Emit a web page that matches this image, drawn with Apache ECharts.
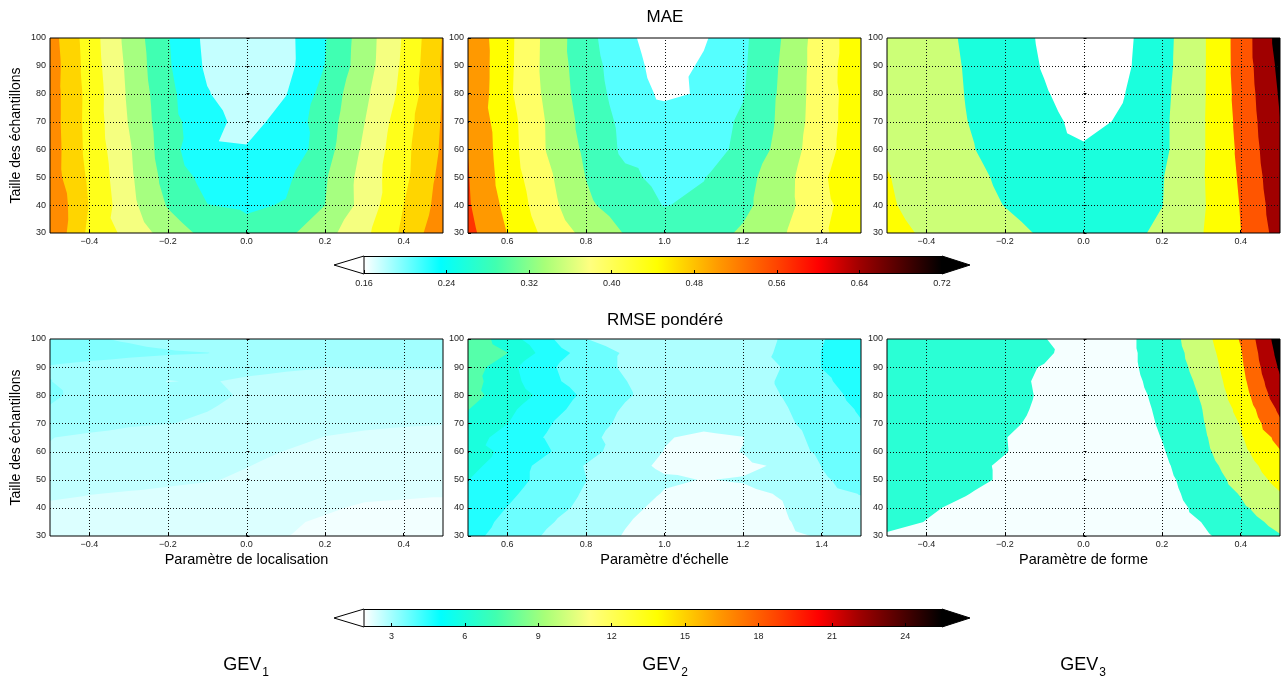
<!DOCTYPE html>
<html><head><meta charset="utf-8">
<script src="https://cdn.jsdelivr.net/npm/echarts@6/dist/echarts.min.js"></script>
<style>html,body{margin:0;padding:0;background:#fff}#c{width:1281px;height:684px}</style>
</head><body><div id="c"></div>
<script>
// ---------------- DATA ----------------
const yMAE = [30, 40, 50, 60, 70, 80, 90, 100];
const yRMSE = [30, 35, 40, 45, 50, 55, 60, 65, 70, 75, 80, 85, 90, 95, 100];
const xLoc = [-0.5, -0.4, -0.3, -0.2, -0.1, 0, 0.1, 0.2, 0.3, 0.4, 0.5];
const xEch = [0.5, 0.6, 0.7, 0.8, 0.9, 1.0, 1.1, 1.2, 1.3, 1.4, 1.5];
const xForme = [-0.5, -0.4, -0.3, -0.2, -0.1, 0, 0.1, 0.2, 0.3, 0.4, 0.5];

// MAE (rows = sample sizes 30..100 step 10)
const maeGEV1 = [
  [0.555,0.449,0.395,0.338,0.295,0.275,0.298,0.343,0.398,0.470,0.549],
  [0.554,0.458,0.377,0.306,0.261,0.253,0.263,0.310,0.378,0.460,0.532],
  [0.536,0.452,0.371,0.291,0.244,0.230,0.250,0.305,0.379,0.448,0.526],
  [0.537,0.445,0.367,0.280,0.218,0.214,0.220,0.290,0.369,0.446,0.518],
  [0.535,0.443,0.358,0.277,0.230,0.191,0.229,0.285,0.359,0.439,0.515],
  [0.535,0.444,0.353,0.274,0.213,0.180,0.208,0.278,0.349,0.425,0.513],
  [0.537,0.439,0.349,0.266,0.202,0.175,0.194,0.261,0.337,0.419,0.517],
  [0.532,0.436,0.343,0.263,0.198,0.175,0.195,0.257,0.335,0.415,0.513]
];
const maeGEV2 = [
  [0.542,0.469,0.400,0.345,0.302,0.278,0.283,0.312,0.354,0.408,0.443],
  [0.531,0.456,0.381,0.315,0.278,0.248,0.261,0.293,0.339,0.400,0.448],
  [0.528,0.444,0.372,0.304,0.261,0.236,0.248,0.286,0.338,0.406,0.465],
  [0.524,0.439,0.358,0.295,0.239,0.228,0.231,0.261,0.325,0.395,0.448],
  [0.514,0.437,0.357,0.286,0.236,0.225,0.228,0.257,0.317,0.391,0.448],
  [0.520,0.427,0.349,0.278,0.226,0.184,0.201,0.247,0.315,0.389,0.448],
  [0.520,0.429,0.345,0.274,0.219,0.171,0.202,0.243,0.312,0.388,0.454],
  [0.516,0.430,0.346,0.268,0.209,0.162,0.189,0.240,0.307,0.388,0.448]
];
const maeGEV3 = [
  [0.425,0.390,0.355,0.325,0.290,0.260,0.260,0.325,0.394,0.499,0.638],
  [0.410,0.372,0.335,0.298,0.265,0.250,0.265,0.298,0.386,0.504,0.654],
  [0.404,0.365,0.325,0.285,0.250,0.235,0.255,0.295,0.389,0.512,0.669],
  [0.390,0.355,0.310,0.270,0.235,0.210,0.235,0.280,0.386,0.520,0.685],
  [0.385,0.350,0.302,0.265,0.225,0.175,0.210,0.280,0.386,0.527,0.698],
  [0.385,0.350,0.298,0.260,0.208,0.155,0.195,0.275,0.383,0.534,0.710],
  [0.380,0.345,0.295,0.255,0.193,0.135,0.180,0.268,0.382,0.540,0.723],
  [0.380,0.340,0.290,0.250,0.185,0.130,0.175,0.265,0.382,0.541,0.740]
];
// RMSE pondéré (rows = sample sizes 30..100 step 5)
const rmseGEV1 = [
  [2.25,2.225,2.2,2.15,2.1,2.05,2.01,1.9,1.8,1.75,1.75],
  [2.35,2.3,2.175,2.25,2.2,2.1,2.05,1.95,1.85,1.8,1.8],
  [2.45,2.4,2.35,2.3,2.25,2.2,2.15,2.05,1.95,1.925,1.925],
  [2.55,2.51,2.475,2.425,2.375,2.3,2.225,2.15,2.075,2.05,2.025],
  [2.7,2.65,2.6,2.575,2.525,2.45,2.375,2.3,2.225,2.2,2.175],
  [2.9,2.76,2.7,2.65,2.6,2.51,2.425,2.35,2.3,2.275,2.25],
  [2.975,2.9,2.825,2.76,2.7,2.6,2.49,2.425,2.375,2.35,2.325],
  [3.01,2.925,2.8,2.85,2.8,2.725,2.6,2.49,2.45,2.425,2.4],
  [3.25,3.15,3.075,3.01,2.95,2.85,2.76,2.6,2.55,2.525,2.51],
  [3.45,3.25,3.15,3.075,3.01,2.925,2.825,2.7,2.625,2.6,2.575],
  [3.6,3.3,3.2,3.125,3.05,2.975,2.875,2.775,2.7,2.675,2.65],
  [3.51,3.3,3.2,2.99,3.025,2.95,2.9,2.8,2.74,2.725,2.7],
  [3.45,3.35,3.25,3.2,3.15,3.1,3.05,3.01,3.03,3.05,3.05],
  [3.8,3.7,3.625,3.55,3.51,3.35,3.15,3.075,3.025,3.05,3.05],
  [3.65,3.55,3.45,3.35,3.275,3.2,3.15,3.1,3.075,3.05,3.05]
];
const rmseGEV2 = [
  [4.3,3.6,2.9,2.4,1.95,1.6,1.5,1.55,1.75,2.1,2.6],
  [4.4,3.8,3.1,2.6,2.05,1.7,1.6,1.65,1.85,2.5,2.75],
  [4.6,3.98,3.4,2.75,2.2,1.8,1.7,1.75,1.95,2.7,2.85],
  [4.8,4.2,3.5,2.9,2.4,1.95,1.8,1.85,2.05,2.8,3.02],
  [5.02,4.4,3.7,3.02,2.5,2.1,1.98,2.05,2.3,2.9,3.3],
  [5.3,4.5,3.7,2.95,2.3,1.85,1.8,1.85,2.1,3.02,3.5],
  [5.4,4.8,4.1,3.3,2.6,1.98,1.8,2.02,2.5,3.2,3.65],
  [5.6,4.5,3.95,3.2,2.7,2.05,1.85,1.98,2.6,3.3,3.8],
  [5.9,5.02,4.1,3.4,2.8,2.4,2.2,2.35,2.8,3.4,3.95],
  [6.02,5.2,4.4,3.6,2.9,2.5,2.4,2.5,2.9,3.5,4.1],
  [6.3,5.6,4.7,3.8,3.1,2.6,2.5,2.6,3.02,3.6,4.3],
  [6.4,5.4,4.3,3.5,3.02,2.6,2.5,2.6,3.1,3.8,4.5],
  [6.6,5.3,4.2,3.4,2.9,2.5,2.4,2.5,3.02,4.02,4.6],
  [6.95,6.02,4.6,3.6,2.9,2.15,2.2,2.35,3.2,4.02,4.6],
  [6.8,5.43,4.22,3.02,2.4,2.15,2.1,2.3,3.1,3.95,4.5]
];
const rmseGEV3 = [
  [3.6,3.0,2.48,2.0,1.6,1.2,1.2,2.0,3.4,5.6,7.8],
  [5.0,3.92,3.2,2.4,1.68,1.2,1.32,2.2,4.02,6.48,9.0],
  [5.2,4.4,3.4,2.6,1.8,1.2,1.4,2.4,4.8,7.4,10.2],
  [5.8,5.2,4.12,3.0,2.0,1.2,1.52,2.72,5.4,8.2,11.8],
  [6.0,5.6,4.88,3.6,2.2,1.2,1.6,3.0,5.8,9.2,13.2],
  [6.0,5.6,4.8,3.6,2.4,1.2,1.6,3.32,6.4,10.0,14.4],
  [6.2,5.8,5.2,4.12,2.6,1.2,1.8,3.72,6.96,10.92,15.8],
  [6.2,5.8,5.2,4.08,2.8,1.4,2.0,4.08,7.28,11.6,17.2],
  [6.4,6.0,5.4,4.6,3.2,1.6,2.2,4.36,7.6,12.2,19.4],
  [6.4,6.0,5.4,4.8,3.52,1.8,2.4,4.56,7.88,13.04,20.8],
  [6.4,6.0,5.4,4.88,3.68,2.0,2.6,4.8,8.28,13.96,22.4],
  [6.4,6.0,5.4,4.8,3.6,2.0,2.8,5.16,8.72,14.68,23.52],
  [6.4,6.0,5.6,5.0,3.8,2.2,3.0,5.48,9.24,15.24,24.56],
  [6.4,6.2,5.8,5.4,4.6,2.2,3.0,5.64,9.76,15.68,25.44],
  [6.4,6.2,5.8,5.2,4.12,2.4,3.0,5.88,10.32,16.32,26.2]
];

// contour levels per panel
const levMae1 = [0.16,0.21,0.26,0.31,0.36,0.41,0.46,0.51,0.56];
const levMae2 = [0.14,0.195,0.25,0.305,0.36,0.415,0.47,0.525,0.58];
const levMae3 = [0.1,0.2,0.3,0.4,0.5,0.6,0.7,0.8];
const levRmse1 = [1.5,2.0,2.5,3.0,3.5,4.0];
const levRmse2 = [1,2,3,4,5,6,7];
const levRmse3 = [0,4,8,12,16,20,24,28];

// tick labels
const xTicksLoc = [-0.4, -0.2, 0.0, 0.2, 0.4];
const xTicksEch = [0.6, 0.8, 1.0, 1.2, 1.4];
const xTicksForme = [-0.4, -0.2, 0.0, 0.2, 0.4];
const yTicks = [30, 40, 50, 60, 70, 80, 90, 100];
const cbMaeRange = [0.16, 0.72];
const cbMaeTicks = [0.16, 0.24, 0.32, 0.40, 0.48, 0.56, 0.64, 0.72];
const cbRmseRange = [1.88, 25.5];
const cbRmseTicks = [3, 6, 9, 12, 15, 18, 21, 24];

// texts
const titles = ['MAE', 'RMSE pondéré'];
const xNames = ['Paramètre de localisation', "Paramètre d'échelle", 'Paramètre de forme'];
const yName = 'Taille des échantillons';
const gevNames = ['1', '2', '3'];

// ---------------- STYLE ----------------
const FONT = '"Liberation Sans", Arial, Helvetica, sans-serif';
const colMae1 = ['#c4ffff','#1affff','#40ffb2','#a6ff80','#f5ff80','#ffff1a','#ffd500','#ff8c00'];
const colMae2 = ['#ffffff','#55ffff','#40ffbb','#aaff77','#ffff66','#ffff00','#ff9900','#ff3300'];
const colMae3 = ['#ffffff','#1affdd','#ccff77','#ffff00','#ff5500','#a00000','#000000'];
const colRmse1 = ['#f2ffff','#dcffff','#c2ffff','#a2ffff','#80ffff'];
const colRmse2 = ['#f0ffff','#aeffff','#6cffff','#22ffff','#1affdd','#55ffaa'];
const colRmse3 = ['#f5ffff','#2affd5','#ccff77','#ffff00','#ff6600','#b00000','#000000'];
const cmapStops = [[0,'#ffffff'],[0.133,'#00ffff'],[0.228,'#40ffb0'],[0.313,'#a8ff78'],[0.391,'#ffff80'],
  [0.507,'#ffff00'],[0.614,'#ff9900'],[0.714,'#ff4400'],[0.786,'#ff0000'],[0.857,'#a00000'],[1,'#000000']];

const gridLeft = [50, 468, 887];
const gridW = 393;
const rowTop = [38, 339];
const rowH = [195, 197];

const panels = [
  {xs: xLoc, ys: yMAE, z: maeGEV1, lev: levMae1, col: colMae1, xt: xTicksLoc, r: 0, c: 0},
  {xs: xEch, ys: yMAE, z: maeGEV2, lev: levMae2, col: colMae2, xt: xTicksEch, r: 0, c: 1},
  {xs: xForme, ys: yMAE, z: maeGEV3, lev: levMae3, col: colMae3, xt: xTicksForme, r: 0, c: 2},
  {xs: xLoc, ys: yRMSE, z: rmseGEV1, lev: levRmse1, col: colRmse1, xt: xTicksLoc, r: 1, c: 0},
  {xs: xEch, ys: yRMSE, z: rmseGEV2, lev: levRmse2, col: colRmse2, xt: xTicksEch, r: 1, c: 1},
  {xs: xForme, ys: yRMSE, z: rmseGEV3, lev: levRmse3, col: colRmse3, xt: xTicksForme, r: 1, c: 2}
];

function clipTri(tri, L) {
  const out = [];
  for (let n = 0; n < tri.length; n++) {
    const p = tri[n], q = tri[(n + 1) % tri.length];
    const pin = p[2] >= L, qin = q[2] >= L;
    if (pin) out.push(p);
    if (pin !== qin) {
      const t = (L - p[2]) / (q[2] - p[2]);
      out.push([p[0] + t * (q[0] - p[0]), p[1] + t * (q[1] - p[1]), L]);
    }
  }
  return out;
}

function contourSeries(idx, P) {
  const xs = P.xs, ys = P.ys, Z = P.z, lev = P.lev, col = P.col;
  return {
    type: 'custom', xAxisIndex: idx, yAxisIndex: idx, z: 2, silent: true, animation: false,
    data: col.map((c, k) => [xs[0], ys[0], lev[k]]),
    encode: {x: 0, y: 1},
    renderItem: function (params, api) {
      const k = params.dataIndex, L = lev[k];
      let d = '';
      for (let j = 0; j < ys.length - 1; j++) {
        for (let i = 0; i < xs.length - 1; i++) {
          const a = [xs[i], ys[j], Z[j][i]], b = [xs[i + 1], ys[j], Z[j][i + 1]];
          const c = [xs[i + 1], ys[j + 1], Z[j + 1][i + 1]], e = [xs[i], ys[j + 1], Z[j + 1][i]];
          const tris = [[a, b, c], [a, c, e]];
          for (const tri of tris) {
            const poly = k === 0 ? tri : clipTri(tri, L);
            if (poly.length < 3) continue;
            poly.forEach((p, n) => {
              const q = api.coord([p[0], p[1]]);
              d += (n ? 'L' : 'M') + q[0].toFixed(2) + ' ' + q[1].toFixed(2);
            });
            d += 'Z';
          }
        }
      }
      return {type: 'path', z2: k, shape: {pathData: d}, style: {fill: col[k], stroke: null}};
    }
  };
}

function gridLineSeries(idx, P) {
  const xr = [P.xs[0], P.xs[P.xs.length - 1]], yr = [P.ys[0], P.ys[P.ys.length - 1]];
  return {
    type: 'custom', xAxisIndex: idx, yAxisIndex: idx, z: 5, silent: true, animation: false,
    data: [[xr[0], yr[0]]], encode: {x: 0, y: 1},
    renderItem: function (params, api) {
      const ch = [];
      const st = {stroke: '#111', lineWidth: 1, lineDash: [1, 2]};
      P.xt.forEach(v => {
        const a = api.coord([v, yr[0]]), b = api.coord([v, yr[1]]);
        const x = Math.round(a[0]) + 0.5;
        ch.push({type: 'line', shape: {x1: x, y1: a[1], x2: x, y2: b[1]}, style: st});
      });
      yTicks.forEach(v => {
        if (v <= yr[0] || v >= yr[1]) return;
        const a = api.coord([xr[0], v]), b = api.coord([xr[1], v]);
        const y = Math.round(a[1]) + 0.5;
        ch.push({type: 'line', shape: {x1: a[0], y1: y, x2: b[0], y2: y}, style: st});
      });
      return {type: 'group', children: ch};
    }
  };
}

function colorbarSeries(idx, range) {
  return {
    type: 'custom', xAxisIndex: idx, yAxisIndex: idx, z: 2, silent: true, animation: false,
    data: [[range[0], 0, range[1], 1]], encode: {x: [0, 2], y: [1, 3]},
    renderItem: function (params, api) {
      const p0 = api.coord([range[0], 0]), p1 = api.coord([range[1], 1]);
      const x0 = p0[0], x1 = p1[0], yb = p0[1], yt = p1[1], ym = (yb + yt) / 2;
      const tip = 30;
      return {type: 'group', children: [
        {type: 'rect', shape: {x: x0, y: yt, width: x1 - x0, height: yb - yt},
          style: {fill: {type: 'linear', x: 0, y: 0, x2: 1, y2: 0,
            colorStops: cmapStops.map(s => ({offset: s[0], color: s[1]}))}, stroke: null}},
        {type: 'polygon', shape: {points: [[x0, yt], [x0 - tip, ym], [x0, yb]]},
          style: {fill: '#ffffff', stroke: '#000', lineWidth: 1}},
        {type: 'polygon', shape: {points: [[x1, yt], [x1 + tip - 2, ym], [x1, yb]]},
          style: {fill: '#000000', stroke: '#000', lineWidth: 1}},
        {type: 'line', shape: {x1: x0, y1: yt + 0.5, x2: x1, y2: yt + 0.5}, style: {stroke: '#000', lineWidth: 1}},
        {type: 'line', shape: {x1: x0, y1: yb - 0.5, x2: x1, y2: yb - 0.5}, style: {stroke: '#000', lineWidth: 1}}
      ]};
    }
  };
}

const fmt = v => {
  const s = (Math.abs(v) < 1e-9 ? 0 : v).toFixed(1);
  return s.replace('-', '\u2212');
};

const grids = [], xAxes = [], yAxes = [], series = [];
panels.forEach((P, i) => {
  grids.push({left: gridLeft[P.c], top: rowTop[P.r], width: gridW, height: rowH[P.r],
    show: true, z: 10, borderColor: '#000', borderWidth: 1, backgroundColor: 'rgba(0,0,0,0)'});
  xAxes.push({
    gridIndex: i, type: 'value', min: P.xs[0], max: P.xs[P.xs.length - 1], z: 10,
    axisLine: {show: false}, splitLine: {show: false},
    axisTick: {show: true, inside: true, length: 3, customValues: P.xt, lineStyle: {color: '#000'}},
    axisLabel: {customValues: P.xt, formatter: fmt, fontSize: 9, color: '#222', margin: 4, fontFamily: FONT},
    name: P.r === 1 ? xNames[P.c] : '', nameLocation: 'middle', nameGap: 16,
    nameTextStyle: {fontSize: 14.5, color: '#000', fontFamily: FONT}
  });
  yAxes.push({
    gridIndex: i, type: 'value', min: 30, max: 100, interval: 10, z: 10,
    axisLine: {show: false}, splitLine: {show: false},
    axisTick: {show: true, inside: true, length: 3, lineStyle: {color: '#000'}},
    axisLabel: {fontSize: 9, color: '#222', margin: 4, fontFamily: FONT},
    name: P.c === 0 ? yName : '', nameLocation: 'middle', nameGap: 27, nameRotate: 90,
    nameTextStyle: {fontSize: 14, color: '#000', fontFamily: FONT}
  });
  series.push(contourSeries(i, P));
  series.push(gridLineSeries(i, P));
});

// colorbars
const cbDefs = [
  {range: cbMaeRange, ticks: cbMaeTicks, top: 256, dec: 2},
  {range: cbRmseRange, ticks: cbRmseTicks, top: 609, dec: 0}
];
cbDefs.forEach((cb, k) => {
  const i = grids.length;
  grids.push({left: 364, top: cb.top, width: 578, height: 18, show: false});
  xAxes.push({
    gridIndex: i, type: 'value', min: cb.range[0], max: cb.range[1], z: 10,
    axisLine: {show: false}, splitLine: {show: false},
    axisTick: {show: true, inside: true, length: 4, customValues: cb.ticks, lineStyle: {color: '#000'}},
    axisLabel: {customValues: cb.ticks, formatter: v => v.toFixed(cb.dec), fontSize: 9, color: '#222', margin: 5, fontFamily: FONT}
  });
  yAxes.push({gridIndex: i, type: 'value', min: 0, max: 1, show: false});
  series.push(colorbarSeries(i, cb.range));
});

const gevX = [246, 665, 1083];
const graphic = [
  {type: 'text', x: 665, y: 17, style: {text: titles[0], font: '17px ' + FONT, fill: '#000', align: 'center', verticalAlign: 'middle'}},
  {type: 'text', x: 665, y: 320, style: {text: titles[1], font: '17px ' + FONT, fill: '#000', align: 'center', verticalAlign: 'middle'}}
];
gevNames.forEach((s, i) => {
  graphic.push({type: 'text', x: gevX[i], y: 656, style: {
    text: '{a|GEV}{b|' + s + '}', align: 'center', verticalAlign: 'top',
    rich: {
      a: {fontSize: 18, fontFamily: FONT, fill: '#000', color: '#000', lineHeight: 20, verticalAlign: 'top'},
      b: {fontSize: 12, fontFamily: FONT, fill: '#000', color: '#000', lineHeight: 12, padding: [11, 0, 0, 1], verticalAlign: 'top'}
    }}});
});

const chart = echarts.init(document.getElementById('c'), null, {renderer: 'canvas', width: 1281, height: 684});
chart.setOption({
  animation: false,
  backgroundColor: '#ffffff',
  textStyle: {fontFamily: FONT},
  grid: grids, xAxis: xAxes, yAxis: yAxes, series: series, graphic: graphic
});
</script>
</body></html>
